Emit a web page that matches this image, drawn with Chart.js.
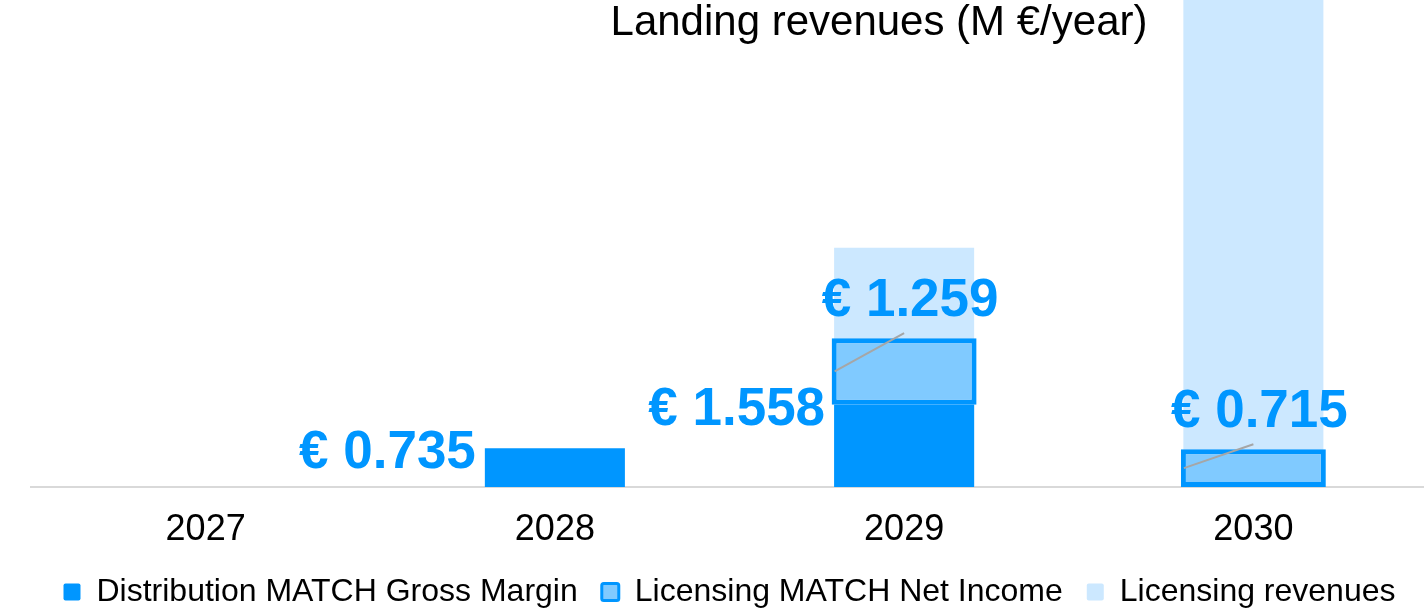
<!DOCTYPE html>
<html lang="en">
<head>
    <meta charset="UTF-8">
    <title>Landing revenues</title>
    <script src="https://cdn.jsdelivr.net/npm/chart.js"></script>
    <style>
        html, body {
            margin: 0;
            padding: 0;
            background: #fff;
            overflow: hidden;
        }
        #wrap {
            width: 1428px;
            height: 608px;
            position: relative;
        }
    </style>
</head>
<body>
    <div id="wrap"><canvas id="revChart"></canvas></div>

    <script>
        // values in M euro per year
        const years = ['2027', '2028', '2029', '2030'];
        const distributionMargin = [null, 0.735, 1.558, null];
        const licensingNetIncome = [null, null, 1.259, 0.715];
        const licensingRevenues = [null, null, 4.53, 9.6];
        const seriesNames = ['Distribution MATCH Gross Margin', 'Licensing MATCH Net Income', 'Licensing revenues'];
        const chartTitle = 'Landing revenues (M €/year)';
        const yMax = 9.22;

        const FONT = "'Liberation Sans', Arial, sans-serif";
        const BLUE = '#0096ff';

        const fmt = v => '€ ' + v.toFixed(3);

        // title, value labels and leader lines
        const labelPlugin = {
            id: 'valueLabels',
            afterDatasetsDraw(chart) {
                const ctx = chart.ctx;
                ctx.save();

                ctx.font = '42px ' + FONT;
                ctx.fillStyle = '#000';
                ctx.textAlign = 'center';
                ctx.textBaseline = 'alphabetic';
                ctx.fillText(chartTitle, 879, 35);

                ctx.font = 'bold 53px ' + FONT;
                ctx.fillStyle = BLUE;

                chart.getDatasetMeta(0).data.forEach((bar, i) => {
                    if (distributionMargin[i] == null) return;
                    ctx.textAlign = 'right';
                    ctx.fillText(fmt(distributionMargin[i]), bar.x - bar.width / 2 - 9, bar.y + 20);
                });

                chart.getDatasetMeta(1).data.forEach((bar, i) => {
                    if (licensingNetIncome[i] == null) return;
                    // leader line
                    ctx.strokeStyle = '#a6a6a6';
                    ctx.lineWidth = 2;
                    ctx.beginPath();
                    ctx.moveTo(bar.x - bar.width / 2 + 3, (bar.y + bar.base) / 2);
                    ctx.lineTo(bar.x, bar.y - 5);
                    ctx.stroke();

                    ctx.textAlign = 'center';
                    ctx.fillText(fmt(licensingNetIncome[i]), bar.x + 6, bar.y - 22);
                });

                ctx.restore();
            }
        };

        const ctx = document.getElementById('revChart').getContext('2d');
        const revChart = new Chart(ctx, {
            type: 'bar',
            data: {
                labels: years,
                datasets: [
                    {
                        label: seriesNames[0],
                        data: distributionMargin,
                        backgroundColor: BLUE,
                        borderWidth: 0,
                        stack: 'main',
                        grouped: false,
                        barPercentage: 0.401,
                        categoryPercentage: 1
                    },
                    {
                        label: seriesNames[1],
                        data: licensingNetIncome,
                        backgroundColor: '#80caff',
                        borderColor: BLUE,
                        borderWidth: 5,
                        borderSkipped: false,
                        stack: 'main',
                        grouped: false,
                        barPercentage: 0.415,
                        categoryPercentage: 1
                    },
                    {
                        label: seriesNames[2],
                        data: licensingRevenues,
                        backgroundColor: '#cce8ff',
                        borderWidth: 0,
                        stack: 'rev',
                        grouped: false,
                        barPercentage: 0.401,
                        categoryPercentage: 1
                    }
                ]
            },
            options: {
                responsive: true,
                maintainAspectRatio: false,
                animation: false,
                layout: {
                    padding: { left: 31, right: 0, top: 0, bottom: 0 }
                },
                scales: {
                    x: {
                        grid: { display: false, drawTicks: false },
                        border: { display: true, color: '#d9d9d9', width: 2 },
                        ticks: {
                            color: '#000',
                            padding: 26,
                            font: { family: FONT, size: 36, lineHeight: '34px' }
                        },
                        afterFit(scale) {
                            scale.height = 65;
                        }
                    },
                    y: {
                        display: false,
                        stacked: true,
                        min: 0,
                        max: yMax
                    }
                },
                plugins: {
                    tooltip: { enabled: false },
                    legend: {
                        position: 'bottom',
                        fullSize: false,
                        maxHeight: 56,
                        labels: {
                            color: '#000',
                            boxWidth: 17,
                            boxHeight: 17,
                            padding: 24,
                            useBorderRadius: true,
                            borderRadius: 2,
                            font: { family: FONT, size: 32 },
                            generateLabels(chart) {
                                const items = Chart.defaults.plugins.legend.labels.generateLabels(chart);
                                items[1].lineWidth = 3;
                                return items;
                            }
                        }
                    }
                }
            },
            plugins: [labelPlugin]
        });
    </script>
</body>
</html>
